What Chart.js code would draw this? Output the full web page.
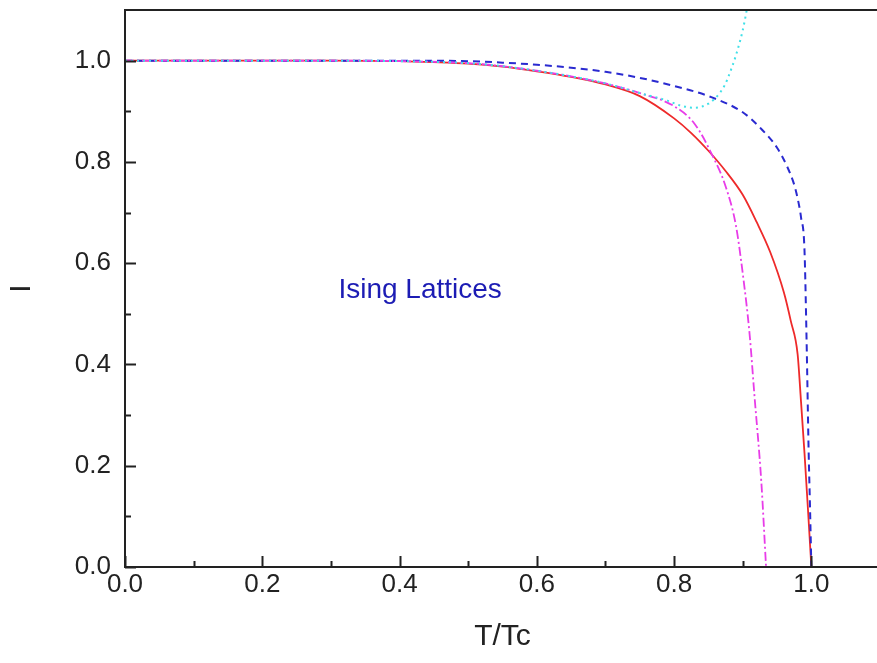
<!DOCTYPE html>
<html>
<head>
<meta charset="utf-8">
<script src="https://cdn.jsdelivr.net/npm/chart.js@4.4.1/dist/chart.umd.min.js"></script>
<style>
  html, body { margin: 0; padding: 0; background: #fff; overflow: hidden; }
  #wrap { width: 882px; height: 663px; }
</style>
</head>
<body>
<div id="wrap"><canvas id="chart" width="882" height="663"></canvas></div>
<script>
// Data (T/Tc vs I)
const redT = [0, 0.1, 0.2, 0.3, 0.4, 0.45, 0.5, 0.55, 0.6, 0.65, 0.7, 0.75, 0.8, 0.825, 0.85, 0.875, 0.9, 0.92, 0.94, 0.96, 0.97, 0.98, 0.985, 0.99, 0.995, 1.0];
const redI = [1, 1, 1, 1, 0.999, 0.997, 0.994, 0.988, 0.979, 0.968, 0.953, 0.930, 0.886, 0.857, 0.822, 0.782, 0.735, 0.682, 0.622, 0.542, 0.486, 0.420, 0.325, 0.225, 0.115, 0];

const blueT = [0, 0.1, 0.2, 0.3, 0.4, 0.5, 0.55, 0.6, 0.65, 0.7, 0.75, 0.8, 0.85, 0.9, 0.925, 0.95, 0.965, 0.975, 0.98, 0.985, 0.99, 0.993, 0.996, 0.998, 1.0];
const blueI = [1, 1, 1, 1, 1, 0.999, 0.996, 0.992, 0.986, 0.978, 0.966, 0.950, 0.930, 0.898, 0.868, 0.828, 0.790, 0.755, 0.728, 0.690, 0.625, 0.450, 0.230, 0.120, 0];

const magentaT = [0, 0.1, 0.2, 0.3, 0.4, 0.5, 0.55, 0.6, 0.65, 0.7, 0.75, 0.8, 0.83, 0.855, 0.875, 0.89, 0.9, 0.91, 0.917, 0.927, 0.934];
const magentaI = [1, 1, 1, 1, 0.999, 0.995, 0.989, 0.980, 0.969, 0.955, 0.936, 0.910, 0.875, 0.815, 0.752, 0.675, 0.580, 0.460, 0.340, 0.170, 0];

const cyanT = [0, 0.1, 0.2, 0.3, 0.4, 0.5, 0.55, 0.6, 0.65, 0.7, 0.75, 0.79, 0.81, 0.83, 0.85, 0.866, 0.875, 0.881, 0.89, 0.9, 0.91];
const cyanI = [1, 1, 1, 1, 0.999, 0.995, 0.989, 0.980, 0.969, 0.955, 0.936, 0.921, 0.911, 0.907, 0.915, 0.935, 0.955, 0.975, 1.01, 1.06, 1.13];

// Tick labels and tick marks
const xTicks = [0, 0.2, 0.4, 0.6, 0.8, 1.0];
const yTicks = [0, 0.2, 0.4, 0.6, 0.8, 1.0];
const tickMarks = [0, 0.1, 0.2, 0.3, 0.4, 0.5, 0.6, 0.7, 0.8, 0.9, 1.0];

const noteText = 'Ising Lattices';
const noteT = 0.43;
const noteI = 0.546;

const FONT = '"Liberation Sans", Arial, sans-serif';

const toPoints = (xs, ys) => xs.map((v, i) => ({ x: v, y: ys[i] }));

// inward ticks, frame and the text label
const frameTicks = {
    id: 'frameTicks',
    afterDraw(chart) {
        const { ctx, chartArea: a, scales: { x, y } } = chart;
        ctx.save();
        ctx.strokeStyle = '#222';
        ctx.lineWidth = 2;
        ctx.strokeRect(a.left, a.top, a.right - a.left, a.bottom - a.top);
        ctx.beginPath();
        tickMarks.forEach((v, i) => {
            const len = i % 2 === 0 ? 11 : 6;
            const px = Math.round(x.getPixelForValue(v)) + 0.5;
            ctx.moveTo(px, a.bottom);
            ctx.lineTo(px, a.bottom - len);
            const py = Math.round(y.getPixelForValue(v)) + 0.5;
            ctx.moveTo(a.left, py);
            ctx.lineTo(a.left + len, py);
        });
        ctx.stroke();

        ctx.fillStyle = '#1c1cb4';
        ctx.font = '28px ' + FONT;
        ctx.textAlign = 'center';
        ctx.textBaseline = 'middle';
        ctx.fillText(noteText, x.getPixelForValue(noteT), y.getPixelForValue(noteI));
        ctx.restore();
    }
};

const tickFont = { family: FONT, size: 26 };

new Chart(document.getElementById('chart'), {
    type: 'line',
    data: {
        datasets: [
            {
                label: 'cyan',
                data: toPoints(cyanT, cyanI),
                borderColor: '#40e0e8',
                borderWidth: 2,
                borderDash: [2, 4],
                cubicInterpolationMode: 'monotone'
            },
            {
                label: 'magenta',
                data: toPoints(magentaT, magentaI),
                borderColor: '#e83ce8',
                borderWidth: 1.8,
                borderDash: [9, 3, 2, 3],
                cubicInterpolationMode: 'monotone'
            },
            {
                label: 'blue',
                data: toPoints(blueT, blueI),
                borderColor: '#2a2ad0',
                borderWidth: 2,
                borderDash: [7, 5],
                cubicInterpolationMode: 'monotone'
            },
            {
                label: 'red',
                data: toPoints(redT, redI),
                borderColor: '#ee2a2a',
                borderWidth: 1.8,
                cubicInterpolationMode: 'monotone'
            }
        ]
    },
    options: {
        responsive: false,
        animation: false,
        layout: { padding: { top: 10, right: 2, left: 0, bottom: 0 } },
        elements: { point: { radius: 0 } },
        plugins: {
            legend: { display: false },
            tooltip: { enabled: false }
        },
        scales: {
            x: {
                type: 'linear',
                min: 0,
                max: 1.1,
                afterBuildTicks: s => { s.ticks = xTicks.map(v => ({ value: v })); },
                afterFit: s => {
                    s.height = 96;
                    s.paddingLeft = 0;
                    s.paddingRight = 0;
                },
                grid: { display: false, drawTicks: false },
                border: { display: false },
                ticks: {
                    color: '#222',
                    font: tickFont,
                    padding: 2,
                    maxRotation: 0,
                    callback: v => v.toFixed(1)
                },
                title: {
                    display: true,
                    text: 'T/Tc',
                    color: '#222',
                    font: { family: FONT, size: 30 },
                    padding: { top: 0, bottom: 8 }
                }
            },
            y: {
                type: 'linear',
                min: 0,
                max: 1.1,
                afterBuildTicks: s => { s.ticks = yTicks.map(v => ({ value: v })); },
                afterFit: s => {
                    s.width = 125;
                    s.paddingTop = 0;
                    s.paddingBottom = 0;
                },
                grid: { display: false, drawTicks: false },
                border: { display: false },
                ticks: {
                    color: '#222',
                    font: tickFont,
                    padding: 14,
                    callback: v => v.toFixed(1)
                },
                title: {
                    display: true,
                    text: 'I',
                    color: '#222',
                    font: { family: FONT, size: 30 },
                    padding: { top: 4, bottom: 0 }
                }
            }
        }
    },
    plugins: [frameTicks]
});
</script>
</body>
</html>
